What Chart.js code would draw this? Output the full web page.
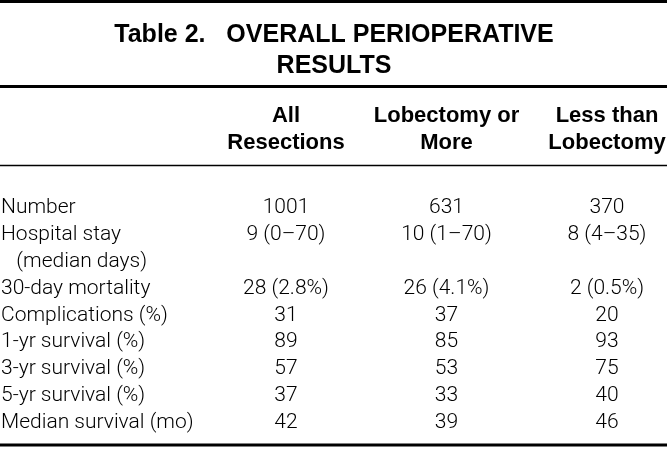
<!DOCTYPE html>
<html>
<head>
<meta charset="utf-8">
<script src="https://cdn.jsdelivr.net/npm/chart.js@4/dist/chart.umd.min.js"></script>
<style>
    html, body { margin: 0; padding: 0; background: #fff; }
    #wrap { width: 667px; height: 449px; position: relative; }
</style>
</head>
<body>
<div id="wrap"><canvas id="chart"></canvas></div>
<script>
const title_lines = ['Table 2.   OVERALL PERIOPERATIVE', 'RESULTS'];

const column_headers = [
    ['All', 'Resections'],
    ['Lobectomy or', 'More'],
    ['Less than', 'Lobectomy']
];

const row_labels = [
    'Number',
    'Hospital stay',
    '   (median days)',
    '30-day mortality',
    'Complications (%)',
    '1-yr survival (%)',
    '3-yr survival (%)',
    '5-yr survival (%)',
    'Median survival (mo)'
];

// one array per column, '' where the row is a continuation line
const all_resections = ['1001', '9 (0–70)', '', '28 (2.8%)', '31', '89', '57', '37', '42'];
const lobectomy_or_more = ['631', '10 (1–70)', '', '26 (4.1%)', '37', '85', '53', '33', '39'];
const less_than_lobectomy = ['370', '8 (4–35)', '', '2 (0.5%)', '20', '93', '75', '40', '46'];

const columns = [all_resections, lobectomy_or_more, less_than_lobectomy];

const HEAD_FONT = "'Liberation Sans', Arial, Helvetica, sans-serif";
const BODY_FONT = "Roboto, 'Liberation Sans', Arial, sans-serif";

// draws cell values and the horizontal rules of the table
const tablePlugin = {
    id: 'tableCells',
    afterDraw(chart) {
        const ctx = chart.ctx;
        const x = chart.scales.x;
        const y = chart.scales.y;

        ctx.save();
        ctx.font = '300 21px ' + BODY_FONT;
        ctx.fillStyle = '#000';
        ctx.textAlign = 'center';
        ctx.textBaseline = 'middle';
        columns.forEach((col, ci) => {
            const px = x.getPixelForTick(ci);
            col.forEach((val, ri) => {
                if (val === '') return;
                ctx.fillText(val, px, y.getPixelForTick(ri));
            });
        });

        const rule = (yy, w) => {
            ctx.beginPath();
            ctx.lineWidth = w;
            ctx.strokeStyle = '#000';
            ctx.moveTo(0, yy);
            ctx.lineTo(chart.width, yy);
            ctx.stroke();
        };
        rule(1.5, 3);
        rule(x.top - 15.5, 3);
        rule(y.top - 42, 1.5);
        rule(y.bottom + 22, 3);
        ctx.restore();
    }
};

// empty axes used only to hold margins
const spacer = (pos, size, weight) => ({
    type: 'linear',
    position: pos,
    weight: weight,
    grid: { display: false, drawTicks: false },
    border: { display: false },
    ticks: { display: false },
    afterFit(scale) {
        if (scale.isHorizontal()) scale.height = size;
        else scale.width = size;
    }
});

const ctx = document.getElementById('chart').getContext('2d');
const chart = new Chart(ctx, {
    type: 'scatter',
    data: { datasets: [] },
    options: {
        responsive: true,
        maintainAspectRatio: false,
        animation: false,
        layout: { padding: { left: 1, right: 0, top: 0, bottom: 26 } },
        plugins: {
            legend: { display: false },
            tooltip: { enabled: false },
            title: {
                display: true,
                text: title_lines,
                color: '#000',
                font: { family: HEAD_FONT, size: 25, weight: 'bold', lineHeight: '31px' },
                padding: { top: 20, bottom: 20 }
            }
        },
        scales: {
            x: {
                type: 'category',
                position: 'top',
                weight: 2,
                labels: column_headers,
                offset: false,
                grid: { display: false, drawTicks: false },
                border: { display: false },
                ticks: {
                    color: '#000',
                    font: { family: HEAD_FONT, size: 22, weight: 'bold', lineHeight: '27px' },
                    padding: 0,
                    maxRotation: 0,
                    autoSkip: false
                },
                afterFit(scale) { scale.height = 54; }
            },
            headGap: spacer('top', 51.5, 1),
            y: {
                type: 'category',
                position: 'left',
                labels: row_labels,
                offset: false,
                grid: { display: false, drawTicks: false },
                border: { display: false },
                ticks: {
                    color: '#000',
                    font: { family: BODY_FONT, size: 21, weight: '300' },
                    crossAlign: 'far',
                    autoSkip: false
                },
                afterFit(scale) { scale.width = 285; }
            },
            rightGap: spacer('right', 60, 0)
        }
    },
    plugins: [tablePlugin]
});
</script>
</body>
</html>
